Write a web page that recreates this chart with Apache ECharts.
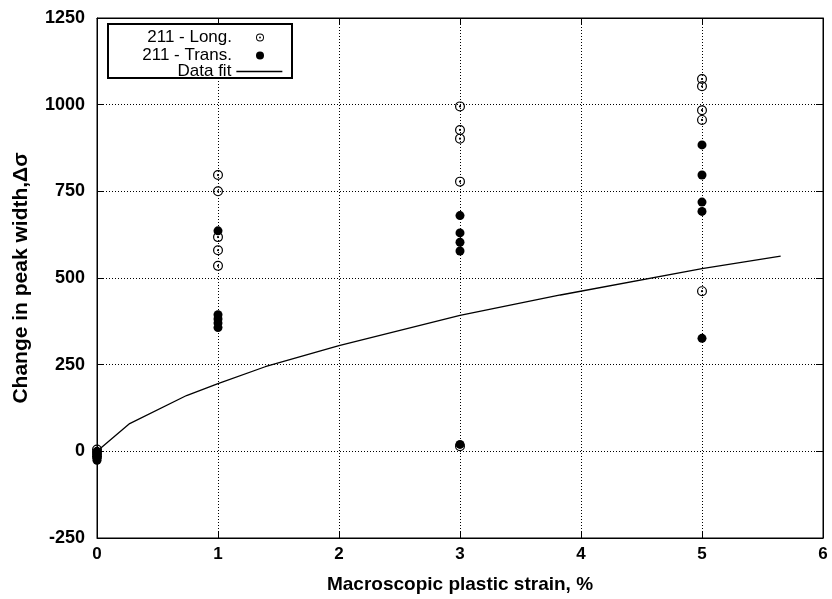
<!DOCTYPE html>
<html>
<head>
<meta charset="utf-8">
<script src="https://cdn.jsdelivr.net/npm/echarts@6/dist/echarts.min.js"></script>
<style>html,body{margin:0;padding:0;background:#fff;}#c{width:832px;height:599px;}</style>
</head>
<body>
<div id="c"></div>
<script>
// Data
const strainLong = [0, 0, 0, 1, 1, 1, 1, 1, 3, 3, 3, 3, 3, 5, 5, 5, 5, 5];
const widthLong  = [5, -5, -15, 797, 750, 618, 580, 535, 995, 927, 902, 778, 15, 1074, 1053, 984, 956, 462];
const strainTrans = [0, 0, 0, 0, 1, 1, 1, 1, 1, 3, 3, 3, 3, 3, 5, 5, 5, 5, 5];
const widthTrans  = [0, -10, -20, -26, 636, 394, 382, 370, 357, 680, 630, 603, 578, 20, 884, 797, 719, 692, 326];
const fitStrain = [0, 0.27, 0.74, 1, 1.39, 2, 3, 3.83, 5, 5.65];
const fitWidth  = [0, 80, 161, 195, 244, 305, 392, 451, 527, 563];
const xTicks = [0, 1, 2, 3, 4, 5, 6];
const yTicks = [-250, 0, 250, 500, 750, 1000, 1250];
const seriesNames = ['211 - Long.', '211 - Trans.', 'Data fit'];

const pair = (xs, ys) => xs.map((x, i) => [x, ys[i]]);
const ringDot = 'path://M10,0 A10,10 0 1,1 9.99,0 Z M10,2.4 A7.6,7.6 0 1,0 10.01,2.4 Z M10,7.8 A2.2,2.2 0 1,1 9.99,7.8 Z';
const FONT = '"Liberation Sans", Arial, sans-serif';
const plain = v => String(v);

const chart = echarts.init(document.getElementById('c'), null, {renderer: 'canvas'});
const legendBase = {orient: 'vertical', align: 'right', padding: 0, itemWidth: 46,
  textStyle: {fontFamily: FONT, fontSize: 17, color: '#000'}, selectedMode: false, z: 5};
chart.setOption({
  backgroundColor: '#fff',
  animation: false,
  grid: {left: 97, right: 9, top: 18, bottom: 58, show: true, borderColor: '#000', borderWidth: 1, backgroundColor: 'transparent'},
  graphic: [{type: 'rect', shape: {x: 108, y: 24, width: 184, height: 54}, style: {fill: '#fff', stroke: '#000', lineWidth: 2}, z: 3}],
  legend: [
    Object.assign({}, legendBase, {data: [seriesNames[0]], right: 568, top: 29, itemHeight: 8}),
    Object.assign({}, legendBase, {data: [seriesNames[1]], right: 568, top: 47, itemHeight: 8}),
    Object.assign({}, legendBase, {data: [seriesNames[2]], right: 549, top: 63, itemHeight: 14,
      itemStyle: {opacity: 0}, lineStyle: {color: '#000', width: 1.3, opacity: 1}})
  ],
  xAxis: [{
    type: 'value', min: xTicks[0], max: xTicks[xTicks.length - 1], interval: 1,
    name: 'Macroscopic plastic strain, %', nameLocation: 'middle', nameGap: 37,
    nameTextStyle: {fontFamily: FONT, fontSize: 19, fontWeight: 'bold', color: '#000'},
    axisLine: {onZero: false, lineStyle: {color: '#000', width: 1}},
    axisTick: {inside: true, length: 7, lineStyle: {color: '#000'}},
    axisLabel: {fontFamily: FONT, fontSize: 17, fontWeight: 'bold', color: '#000', margin: 8, formatter: plain},
    splitLine: {show: true, lineStyle: {type: [1, 2], color: '#000', width: 1}}
  }, {
    type: 'value', position: 'top', min: xTicks[0], max: xTicks[xTicks.length - 1], interval: 1,
    axisLine: {onZero: false, lineStyle: {color: '#000'}}, axisTick: {inside: true, length: 7, lineStyle: {color: '#000'}},
    axisLabel: {show: false}, splitLine: {show: false}
  }],
  yAxis: [{
    type: 'value', min: yTicks[0], max: yTicks[yTicks.length - 1], interval: 250,
    name: 'Change in peak width,\u0394\u03c3', nameLocation: 'middle', nameGap: 65,
    nameTextStyle: {fontFamily: FONT, fontSize: 21, fontWeight: 'bold', color: '#000'},
    axisLine: {show: true, onZero: false, lineStyle: {color: '#000', width: 1}},
    axisTick: {show: true, inside: true, length: 7, lineStyle: {color: '#000'}},
    axisLabel: {fontFamily: FONT, fontSize: 18, fontWeight: 'bold', color: '#000', margin: 12, formatter: plain},
    splitLine: {show: true, lineStyle: {type: [1, 2], color: '#000', width: 1}}
  }, {
    type: 'value', position: 'right', min: yTicks[0], max: yTicks[yTicks.length - 1], interval: 250,
    axisLine: {show: true, onZero: false, lineStyle: {color: '#000'}}, axisTick: {show: true, inside: true, length: 7, lineStyle: {color: '#000'}},
    axisLabel: {show: false}, splitLine: {show: false}
  }],
  series: [
    {name: seriesNames[0], type: 'scatter', data: pair(strainLong, widthLong), symbol: ringDot, symbolSize: 10,
     itemStyle: {color: '#000', opacity: 1}, z: 3},
    {name: seriesNames[1], type: 'scatter', data: pair(strainTrans, widthTrans), symbol: 'circle', symbolSize: 9,
     itemStyle: {color: '#000', opacity: 1}, z: 4},
    {name: seriesNames[2], type: 'line', data: pair(fitStrain, fitWidth), symbol: 'none', showSymbol: false,
     lineStyle: {color: '#000', width: 1.3}, itemStyle: {color: '#000'}, z: 2}
  ]
});
</script>
</body>
</html>
